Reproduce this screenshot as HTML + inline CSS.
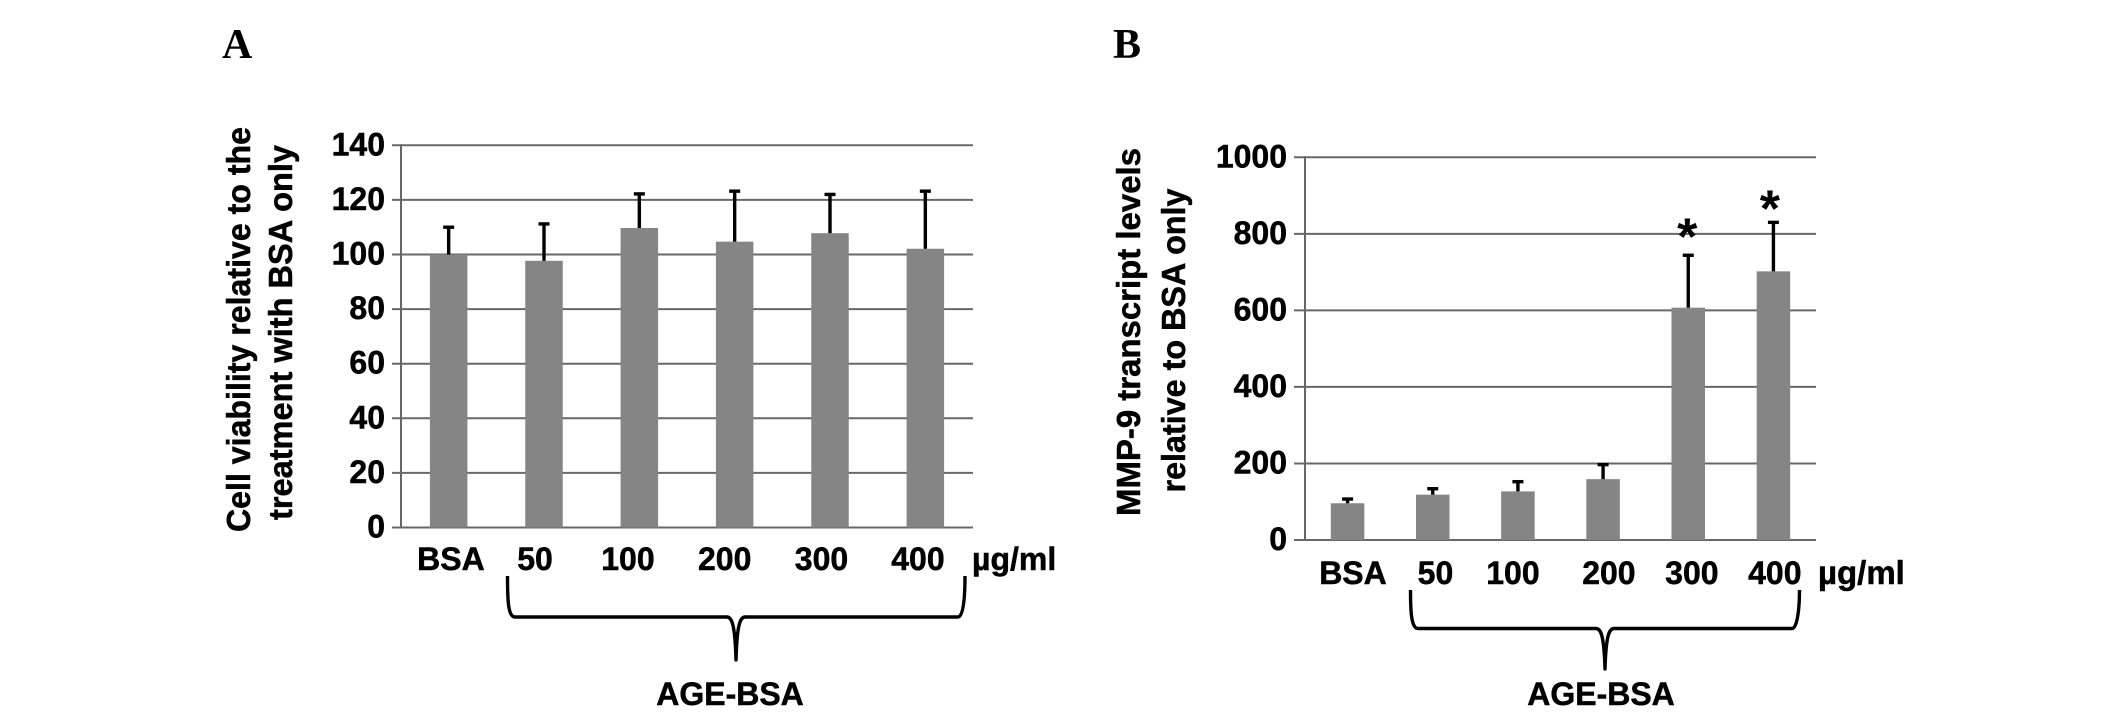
<!DOCTYPE html>
<html lang="en">
<head>
<meta charset="utf-8">
<title>Cell viability and MMP-9 transcript levels</title>
<style>
  html, body { margin: 0; padding: 0; background: #fff; }
  body { width: 2126px; height: 717px; overflow: hidden; }
  svg { display: block; }
  text { font-family: "Liberation Sans", sans-serif; font-weight: bold; fill: #000; }
  .heavy { stroke: #000; stroke-width: 0.5px; }
  .panel { font-family: "Liberation Serif", serif; font-size: 42px; }
  .brace { fill: none; stroke: #000; stroke-width: 3.4px; stroke-linecap: butt; stroke-linejoin: round; }
</style>
</head>
<body>
<svg id="figure" xmlns="http://www.w3.org/2000/svg" width="2126" height="717" viewBox="0 0 2126 717">
  <text class="panel" x="222" y="58">A</text>
  <text class="panel" x="1113" y="58">B</text>

  <g id="chart-a">
    <text class="heavy" font-size="33" textLength="405" lengthAdjust="spacingAndGlyphs" transform="translate(250 532) rotate(-90)">Cell viability relative to the</text>
    <text class="heavy" font-size="33" textLength="375" lengthAdjust="spacingAndGlyphs" transform="translate(292 520) rotate(-90)">treatment with BSA only</text>
    <text class="heavy" font-size="32" x="972" y="570">µg/ml</text>
    <path class="brace" d="M507.5 576 C507.5 600 508 617 515 617 L727 617 C732 617 735 625 736 660 C737 625 740 617 745 617 L958 617 C963 617 965 600 965 576"/>
    <text class="heavy" font-size="32" text-anchor="middle" x="730" y="705">AGE-BSA</text>
  </g>

  <g id="chart-b">
    <text class="heavy" font-size="33" textLength="368" lengthAdjust="spacingAndGlyphs" transform="translate(1140 516) rotate(-90)">MMP-9 transcript levels</text>
    <text class="heavy" font-size="33" textLength="304" lengthAdjust="spacingAndGlyphs" transform="translate(1185 492.5) rotate(-90)">relative to BSA only</text>
    <text class="heavy" font-size="33" x="1818" y="584">µg/ml</text>
    <path class="brace" d="M1410.5 590 C1410.5 610 1411 628.5 1418 628.5 L1596 628.5 C1601 628.5 1604 636 1605 669 C1606 636 1609 628.5 1614 628.5 L1792 628.5 C1797 628.5 1799.5 610 1799.5 590"/>
    <text class="heavy" font-size="32" text-anchor="middle" x="1601" y="705">AGE-BSA</text>
  </g>
</svg>

<script>
const categories = ['BSA', '50', '100', '200', '300', '400'];

const viabilityTicks = [0, 20, 40, 60, 80, 100, 120, 140];
const viabilityValues = [100, 97.7, 109.7, 104.7, 107.8, 102.1];
const viabilityErrors = [10, 13.5, 12.5, 18.5, 14.2, 21.1];

const mmp9Ticks = [0, 200, 400, 600, 800, 1000];
const mmp9Values = [96, 118.5, 127, 159, 607, 702];
const mmp9Errors = [11, 15.5, 25.4, 38, 137, 128];
const mmp9Significance = ['', '', '', '', '*', '*'];

const SVG_NS = 'http://www.w3.org/2000/svg';

function mk(tag, attrs, parent) {
  const el = document.createElementNS(SVG_NS, tag);
  for (const key in attrs) {
    el.setAttribute(key, attrs[key]);
  }
  parent.appendChild(el);
  return el;
}

function drawChart(parent, layout, ticks, values, errors, significance) {
  const maxTick = ticks[ticks.length - 1];
  const yScale = v => layout.y0 - (v / maxTick) * (layout.y0 - layout.yTop);
  const band = (layout.right - layout.left) / categories.length;
  const xScale = i => layout.left + band * (i + 0.5);

  ticks.forEach(t => {
    const grid = mk('line', { x1: layout.tickLeft, x2: layout.right, y1: yScale(t), y2: yScale(t), stroke: '#686868', 'stroke-width': 2 }, parent);
    
    

    const label = mk('text', { x: layout.tickLabelRight, y: yScale(t) + 10, 'text-anchor': 'end', 'font-size': 32, class: 'heavy' }, parent);
    label.textContent = t;
    
    
  });

  const axis = mk('line', { x1: layout.left, x2: layout.left, y1: layout.yTop - 1, y2: layout.y0 + 1, stroke: '#666', 'stroke-width': 2 }, parent);
  
  

  values.forEach((v, i) => {
    const cx = xScale(i);
    const top = yScale(v);
    const bar = mk('rect', { x: cx - layout.barWidth / 2, y: top, width: layout.barWidth, height: layout.y0 - top, fill: '#858585' }, parent);
    
    

    const errTop = yScale(v + errors[i]);
    const stem = mk('line', { x1: cx, x2: cx, y1: top, y2: errTop, stroke: '#000', 'stroke-width': 3.4 }, parent);
    
    

    const cap = mk('line', { x1: cx - 5.5, x2: cx + 5.5, y1: errTop, y2: errTop, stroke: '#000', 'stroke-width': 3.4 }, parent);
    
    

    const label = mk('text', { x: cx + layout.labelNudge[i], y: layout.labelY, 'text-anchor': 'middle', 'font-size': 32, class: 'heavy' }, parent);
    label.textContent = categories[i];
    
    

    if (significance && significance[i]) {
      const star = mk('text', { x: cx + layout.starNudge[i], y: errTop + layout.starLift[i], 'text-anchor': 'middle', 'font-size': 52 }, parent);
      star.textContent = significance[i];
      
      
    }
  });
}

drawChart(document.getElementById('chart-a'), {
  left: 401, right: 973, y0: 527.5, yTop: 145.3, tickLeft: 392, tickLabelRight: 385,
  barWidth: 37.5, labelY: 570, labelNudge: [2.3, -9, -11.4, -10, -8.5, -7.4]
}, viabilityTicks, viabilityValues, viabilityErrors, null);

drawChart(document.getElementById('chart-b'), {
  left: 1305, right: 1816, y0: 540, yTop: 157.3, tickLeft: 1294, tickLabelRight: 1287,
  barWidth: 33.5, labelY: 584, labelNudge: [5.4, 2.7, -5, 5.8, 3.6, 1.4],
  starNudge: [0, 0, 0, 0, -1, -3.5], starLift: [0, 0, 0, 0, -1, 4]
}, mmp9Ticks, mmp9Values, mmp9Errors, mmp9Significance);
</script>
</body>
</html>
